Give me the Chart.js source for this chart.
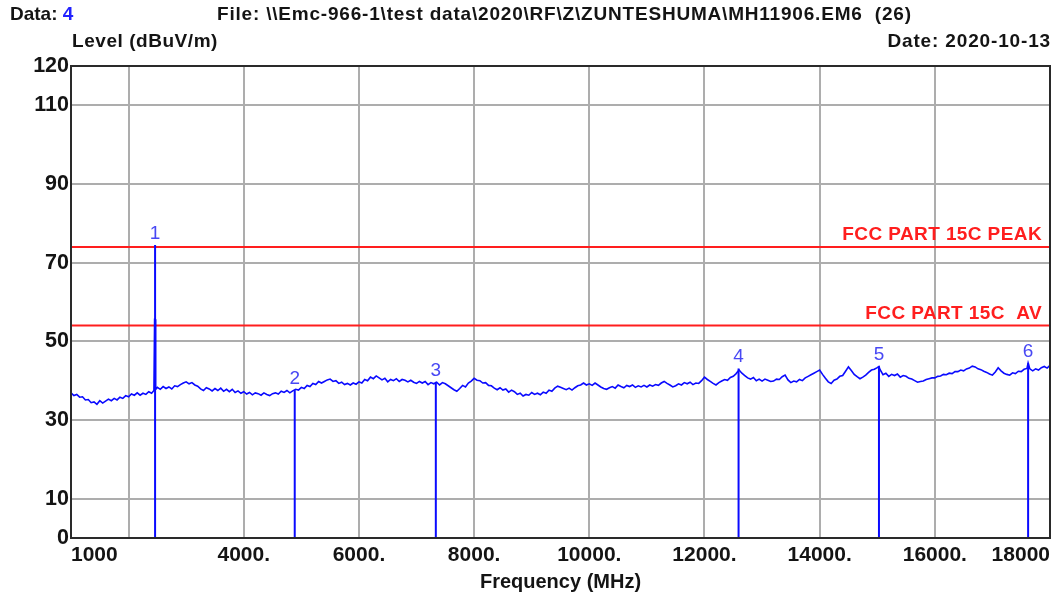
<!DOCTYPE html>
<html>
<head>
<meta charset="utf-8">
<script src="https://cdn.jsdelivr.net/npm/chart.js@4"></script>
<style>
  html, body { margin: 0; padding: 0; background: #ffffff; }
  #wrap { width: 1062px; height: 595px; position: relative; }
  canvas { display: block; }
</style>
</head>
<body>
<div id="wrap"><canvas id="c" width="1062" height="595"></canvas></div>
<script>
// ---- data ----
const HEADER_DATA_LABEL = 'Data: ';
const HEADER_DATA_VALUE = '4';
const HEADER_FILE = 'File: \\\\Emc-966-1\\test data\\2020\\RF\\Z\\ZUNTESHUMA\\MH11906.EM6  (26)';
const HEADER_DATE = 'Date: 2020-10-13';
const Y_TITLE = 'Level (dBuV/m)';
const X_TITLE = 'Frequency (MHz)';

const Y_TICKS = [0, 10, 30, 50, 70, 90, 110, 120];
const X_TICKS = [1000, 2000, 4000, 6000, 8000, 10000, 12000, 14000, 16000, 18000];
const X_TICK_LABELS = ['1000', '', '4000.', '6000.', '8000.', '10000.', '12000.', '14000.', '16000.', '18000'];

const LIMIT_NAMES = ['FCC PART 15C PEAK', 'FCC PART 15C  AV'];
const LIMIT_LEVELS = [74, 54];

const MARKER_NUMS = ['1', '2', '3', '4', '5', '6'];
const MARKER_FREQS = [2460, 4885, 7335, 12592, 15030, 17620];
const MARKER_LEVELS = [74.5, 37.6, 39.7, 43.1, 43.7, 44.4];

const TRACE_FREQS = [
  1000, 1050, 1100, 1150, 1200, 1250, 1300, 1350, 1400, 1450, 1500, 1550, 1600, 1650, 1700, 1750, 1800, 1850, 1900, 1950,
  2000, 2050, 2100, 2150, 2200, 2250, 2300, 2350, 2400, 2440, 2452, 2462, 2470, 2500, 2550, 2600, 2650, 2700, 2750, 2800, 2850, 2900, 2950,
  3000, 3050, 3100, 3150, 3200, 3250, 3300, 3350, 3400, 3450, 3500, 3550, 3600, 3650, 3700, 3750, 3800, 3850, 3900, 3950,
  4000, 4050, 4100, 4150, 4200, 4250, 4300, 4350, 4400, 4450, 4500, 4550, 4600, 4650, 4700, 4750, 4800, 4850, 4900, 4950,
  5000, 5050, 5100, 5150, 5200, 5250, 5300, 5350, 5400, 5450, 5500, 5550, 5600, 5650, 5700, 5750, 5800, 5850, 5900, 5950,
  6000, 6050, 6100, 6150, 6200, 6250, 6300, 6350, 6400, 6450, 6500, 6550, 6600, 6650, 6700, 6750, 6800, 6850, 6900, 6950,
  7000, 7050, 7100, 7150, 7200, 7250, 7300, 7350, 7400, 7450, 7500, 7550, 7600, 7650, 7700, 7750, 7800, 7850, 7900, 7950,
  8000, 8050, 8100, 8150, 8200, 8250, 8300, 8350, 8400, 8450, 8500, 8550, 8600, 8650, 8700, 8750, 8800, 8850, 8900, 8950,
  9000, 9050, 9100, 9150, 9200, 9250, 9300, 9350, 9400, 9450, 9500, 9550, 9600, 9650, 9700, 9750, 9800, 9850, 9900, 9950,
  10000, 10050, 10100, 10150, 10200, 10250, 10300, 10350, 10400, 10450, 10500, 10550, 10600, 10650, 10700, 10750, 10800, 10850, 10900, 10950,
  11000, 11050, 11100, 11150, 11200, 11250, 11300, 11350, 11400, 11450, 11500, 11550, 11600, 11650, 11700, 11750, 11800, 11850, 11900, 11950,
  12000, 12050, 12100, 12150, 12200, 12250, 12300, 12350, 12400, 12450, 12500, 12550, 12600, 12650, 12700, 12750, 12800, 12850, 12900, 12950,
  13000, 13050, 13100, 13150, 13200, 13250, 13300, 13350, 13400, 13450, 13500, 13550, 13600, 13650, 13700, 13750, 13800, 13850, 13900, 13950,
  14000, 14050, 14100, 14150, 14200, 14250, 14300, 14350, 14400, 14450, 14500, 14550, 14600, 14650, 14700, 14750, 14800, 14850, 14900, 14950,
  15000, 15030, 15050, 15100, 15150, 15200, 15250, 15300, 15350, 15400, 15450, 15500, 15550, 15600, 15650, 15700, 15750, 15800, 15850, 15900, 15950,
  16000, 16050, 16100, 16150, 16200, 16250, 16300, 16350, 16400, 16450, 16500, 16550, 16600, 16650, 16700, 16750, 16800, 16850, 16900, 16950,
  17000, 17050, 17100, 17150, 17200, 17250, 17300, 17350, 17400, 17450, 17500, 17550, 17600, 17620, 17650, 17700, 17750, 17800, 17850, 17900, 17950,
  18000
];
const TRACE_LEVELS = [
  36.9, 36.2, 36.5, 35.8, 35.9, 35.1, 35.2, 34.4, 34.6, 34.0, 34.9, 34.3, 34.8, 35.3, 34.9, 35.5, 35.1, 35.8, 35.5, 36.2,
  35.9, 36.6, 36.3, 36.9, 36.3, 36.8, 36.5, 37.2, 36.8, 37.5, 55.6, 55.6, 37.8, 38.3, 37.8, 38.5, 38.0, 38.4, 37.9, 38.7, 38.5, 39.0, 39.4,
  39.7, 39.2, 39.5, 38.9, 38.6, 37.9, 37.5, 38.2, 37.9, 37.4, 38.0, 37.5, 38.1, 37.3, 37.8, 37.2, 37.8, 37.0, 37.4, 36.8,
  37.2, 36.6, 37.0, 36.4, 36.9, 36.7, 36.3, 36.9, 36.5, 36.2, 36.7, 36.9, 36.6, 37.3, 37.0, 37.5, 36.9, 37.4, 37.8, 37.6,
  38.3, 38.0, 38.8, 38.5, 39.3, 39.0, 39.8, 39.4, 39.8, 40.2, 40.4, 39.8, 40.0, 39.3, 39.6, 39.0, 39.3, 38.9, 39.4, 39.1,
  39.7, 39.4, 40.3, 40.0, 40.9, 40.5, 41.2, 40.7, 40.2, 40.6, 39.7, 40.3, 40.0, 40.5, 39.8, 40.3, 40.1, 39.7, 40.1, 39.6,
  39.3, 39.8, 39.4, 39.8, 39.0, 39.5, 39.2, 39.6, 38.9, 39.5, 39.2, 38.7, 38.2, 37.7, 37.3, 38.0, 38.8, 38.4, 39.4, 39.9,
  40.6, 40.1, 40.0, 39.4, 39.5, 38.8, 38.7, 38.1, 37.7, 38.2, 37.6, 37.9, 37.1, 37.6, 37.2, 36.5, 36.8, 36.1, 36.5, 36.3,
  37.0, 36.5, 36.8, 36.4, 37.1, 36.8, 37.6, 37.3, 38.1, 38.6, 38.3, 38.0, 37.7, 38.1, 37.6, 38.2, 38.7, 38.9, 39.4, 38.9,
  39.2, 38.8, 39.4, 38.9, 38.4, 38.0, 37.8, 38.2, 38.5, 38.1, 38.9, 38.5, 38.2, 38.8, 38.5, 38.9, 38.3, 38.7, 38.4, 38.8,
  38.4, 38.9, 38.6, 39.0, 38.8, 39.4, 39.8, 39.3, 38.9, 38.4, 38.7, 39.2, 38.9, 39.5, 39.2, 39.6, 39.0, 39.4, 39.3, 40.0,
  40.9, 40.3, 39.8, 39.3, 38.9, 39.5, 39.9, 40.3, 40.1, 40.8, 41.1, 41.8, 42.7, 41.9, 41.3, 40.7, 40.4, 40.8, 40.0, 40.4,
  39.9, 40.4, 40.1, 39.8, 39.9, 40.4, 40.3, 41.0, 41.4, 40.2, 39.5, 39.9, 39.7, 40.3, 40.0, 40.7, 41.1, 41.5, 41.9, 42.3,
  42.7, 41.6, 40.6, 39.7, 39.3, 40.1, 40.4, 41.1, 41.3, 42.4, 43.5, 42.6, 41.6, 41.0, 40.5, 40.9, 41.4, 42.1, 42.7, 42.9,
  43.3, 43.6, 42.8, 41.5, 41.9, 41.1, 41.6, 41.3, 41.7, 40.9, 41.3, 41.1, 40.6, 40.4, 40.0, 39.6, 39.8, 39.9, 40.3, 40.5, 40.7,
  40.7, 41.1, 41.2, 41.6, 41.5, 41.9, 41.8, 42.3, 42.3, 42.7, 42.5, 43.0, 43.2, 43.7, 43.5, 43.0, 42.8, 42.4, 42.1, 41.7,
  41.4, 42.2, 43.3, 42.5, 41.9, 41.6, 41.4, 42.0, 41.8, 42.4, 42.3, 42.9, 43.1, 44.5, 43.0, 42.5, 43.0, 42.7, 43.3, 43.6, 43.2,
  43.9
];

// ---- styles ----
const FONT = "'Liberation Sans', Arial, sans-serif";
const TEXT_COLOR = '#141414';
const TRACE_COLOR = '#0a0aff';
const LIMIT_COLOR = '#ff1e1e';
const MARKER_LABEL_COLOR = '#4848f4';
const GRID_COLOR = '#adadad';
const BORDER_COLOR = '#2a2a2a';

const traceData = TRACE_FREQS.map((f, i) => ({ x: f, y: TRACE_LEVELS[i] }));

const datasets = [];
datasets.push({
  label: 'Level',
  data: traceData,
  borderColor: TRACE_COLOR,
  borderWidth: 1.6,
  pointRadius: 0,
  tension: 0,
  order: 1
});
LIMIT_LEVELS.forEach((lv, i) => {
  datasets.push({
    label: LIMIT_NAMES[i],
    data: [{ x: X_TICKS[0], y: lv }, { x: X_TICKS[X_TICKS.length - 1], y: lv }],
    borderColor: LIMIT_COLOR,
    borderWidth: 2,
    pointRadius: 0,
    order: 3
  });
});
MARKER_FREQS.forEach((f, i) => {
  datasets.push({
    label: 'Marker ' + MARKER_NUMS[i],
    data: [{ x: f, y: 0 }, { x: f, y: MARKER_LEVELS[i] }],
    borderColor: TRACE_COLOR,
    borderWidth: 2,
    pointRadius: 0,
    order: 2
  });
});

function setSpacing(ctx, px) {
  if ('letterSpacing' in ctx) ctx.letterSpacing = px + 'px';
}

const annotatePlugin = {
  id: 'annotate',
  afterDatasetsDraw(chart) {
    const ctx = chart.ctx;
    const xs = chart.scales.x, ys = chart.scales.y;
    const a = chart.chartArea;
    ctx.save();
    // border
    ctx.strokeStyle = BORDER_COLOR;
    ctx.lineWidth = 2;
    ctx.strokeRect(a.left, a.top, a.right - a.left, a.bottom - a.top);

    // limit labels
    ctx.fillStyle = LIMIT_COLOR;
    ctx.font = 'bold 19px ' + FONT;
    setSpacing(ctx, 0.4);
    ctx.textAlign = 'right';
    ctx.textBaseline = 'alphabetic';
    LIMIT_LEVELS.forEach((lv, i) => {
      ctx.fillText(LIMIT_NAMES[i], a.right - 8, ys.getPixelForValue(lv) - 7);
    });

    // marker labels
    setSpacing(ctx, 0);
    ctx.fillStyle = MARKER_LABEL_COLOR;
    ctx.font = '19px ' + FONT;
    ctx.textAlign = 'center';
    MARKER_FREQS.forEach((f, i) => {
      ctx.fillText(MARKER_NUMS[i], xs.getPixelForValue(f), ys.getPixelForValue(MARKER_LEVELS[i]) - 6);
    });

    // header texts
    ctx.font = 'bold 19px ' + FONT;
    ctx.textAlign = 'left';
    ctx.fillStyle = TEXT_COLOR;
    ctx.fillText(HEADER_DATA_LABEL, 10, 20);
    const w = ctx.measureText(HEADER_DATA_LABEL).width;
    ctx.fillStyle = '#2222ff';
    ctx.fillText(HEADER_DATA_VALUE, 10 + w, 20);
    ctx.fillStyle = TEXT_COLOR;
    setSpacing(ctx, 0.8);
    ctx.fillText(HEADER_FILE, 217, 20);
    setSpacing(ctx, 0.55);
    ctx.fillText(Y_TITLE, a.left + 1, 46.5);
    setSpacing(ctx, 0.85);
    ctx.textAlign = 'right';
    ctx.fillText(HEADER_DATE, a.right + 1, 46.5);
    setSpacing(ctx, 0);
    ctx.textAlign = 'center';
    ctx.font = 'bold 20px ' + FONT;
    ctx.fillText(X_TITLE, (a.left + a.right) / 2, 587.5);
    ctx.restore();
  }
};

new Chart(document.getElementById('c'), {
  type: 'line',
  data: { datasets },
  options: {
    responsive: false,
    animation: false,
    devicePixelRatio: 1,
    parsing: true,
    layout: { padding: { left: 0, top: 66, right: 12, bottom: 0 } },
    plugins: { legend: { display: false }, tooltip: { enabled: false }, title: { display: false } },
    scales: {
      x: {
        type: 'linear',
        min: 1000,
        max: 18000,
        afterBuildTicks: s => { s.ticks = X_TICKS.map(v => ({ value: v })); },
        afterFit: s => { s.height = 57; },
        border: { display: false },
        grid: {
          drawTicks: false,
          lineWidth: 2,
          color: c => (c.tick && (c.tick.value === 1000 || c.tick.value === 18000)) ? 'rgba(0,0,0,0)' : GRID_COLOR
        },
        ticks: {
          autoSkip: false,
          maxRotation: 0,
          minRotation: 0,
          align: 'inner',
          padding: 5,
          color: TEXT_COLOR,
          font: { family: FONT, size: 21, weight: 'bold' },
          callback: v => { const i = X_TICKS.indexOf(v); return i >= 0 ? X_TICK_LABELS[i] : ''; }
        }
      },
      y: {
        min: 0,
        max: 120,
        afterBuildTicks: s => { s.ticks = Y_TICKS.map(v => ({ value: v })); },
        afterFit: s => { s.width = 71; },
        border: { display: false },
        grid: {
          drawTicks: false,
          lineWidth: 2,
          color: c => (c.tick && (c.tick.value === 0 || c.tick.value === 120)) ? 'rgba(0,0,0,0)' : GRID_COLOR
        },
        ticks: {
          padding: 2,
          color: TEXT_COLOR,
          font: { family: FONT, size: 21.5, weight: 'bold' },
          callback: v => String(v)
        }
      }
    }
  },
  plugins: [annotatePlugin]
});
</script>
</body>
</html>
